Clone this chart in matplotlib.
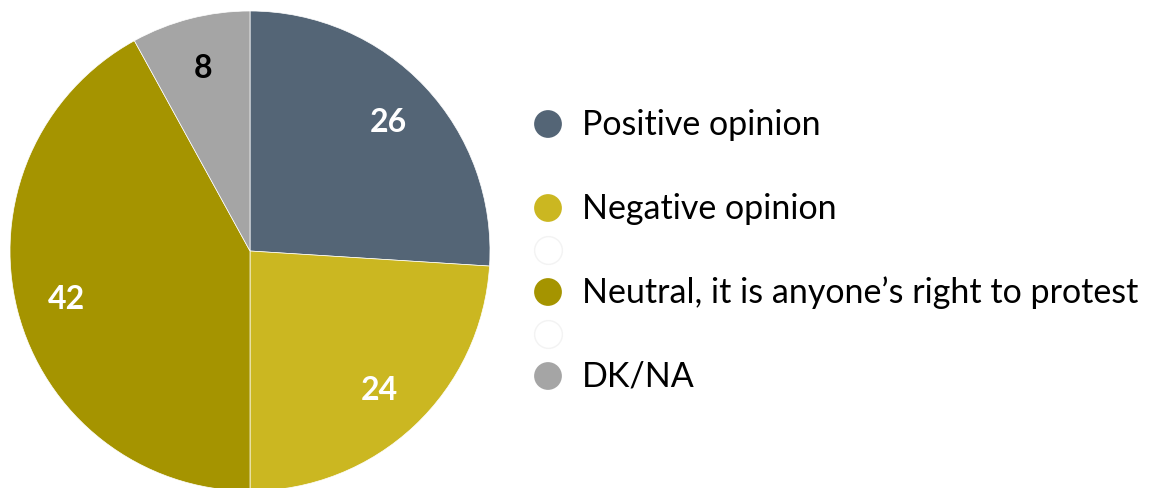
import matplotlib.pyplot as plt

# data
labels = ["Positive opinion", "Negative opinion", "Neutral, it is anyone\u2019s right to protest", "DK/NA"]
values = [26, 24, 42, 8]
colors = ["#546576", "#CBB721", "#A59400", "#A5A5A5"]
label_colors = ["white", "white", "white", "black"]

# legend rows (None = empty row, "blank" = faint empty circle)
legend_rows = [0, None, 1, "blank", 2, "blank", 3]

plt.rcParams['font.family'] = ['Lato', 'DejaVu Sans']

W, H = 1149, 489
fig = plt.figure(figsize=(W / 100, H / 100), dpi=100)

# pie
ax = fig.add_axes([10 / W, (H - 492) / H, 480 / W, 480 / H])
wedges, texts = ax.pie(values, colors=colors, startangle=90, counterclock=False,
                       labels=[str(v) for v in values], labeldistance=0.79,
                       wedgeprops=dict(edgecolor="white", linewidth=0.5),
                       textprops=dict(fontsize=23, fontweight="bold", ha="center", va="center"))
for t, c in zip(texts, label_colors):
    t.set_color(c)
ax.set_xlim(-1, 1)
ax.set_ylim(-1, 1)
ax.set_aspect("equal")
ax.axis("off")

# legend drawn by hand
lax = fig.add_axes([0, 0, 1, 1])
lax.set_xlim(0, W)
lax.set_ylim(H, 0)
lax.axis("off")
y0, dy = 125, 42
for i, row in enumerate(legend_rows):
    y = y0 + i * dy
    if row is None:
        continue
    if row == "blank":
        lax.scatter([548], [y], s=400, facecolor="white", edgecolor="#F3F3F3", linewidth=1)
        continue
    lax.scatter([548], [y], s=400, color=colors[row], edgecolor="none")
    lax.text(582, y, labels[row], fontsize=24.5, va="center", ha="left", color="black")

fig.savefig("out.png", dpi=100)
